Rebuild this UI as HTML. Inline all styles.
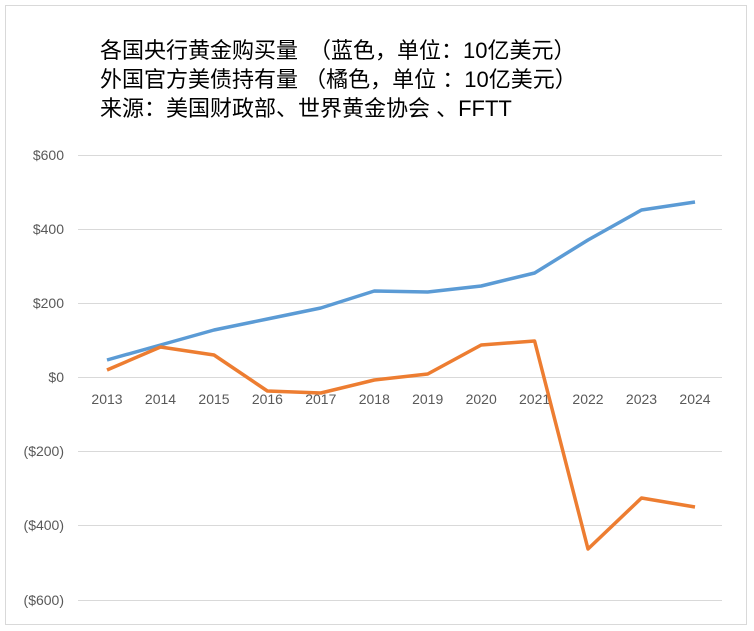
<!DOCTYPE html>
<html><head><meta charset="utf-8"><style>
body{margin:0;background:#fff;}
svg{display:block;}
text{font-family:"Liberation Sans","Noto Sans CJK SC",sans-serif;}
</style></head><body>
<svg width="754" height="631" xmlns="http://www.w3.org/2000/svg">
<rect x="0" y="0" width="754" height="631" fill="#fff"/>
<rect x="5.5" y="5.5" width="741" height="619" fill="none" stroke="#d9d9d9" stroke-width="1"/>
<g font-size="22" fill="#000">
<text x="100" y="58">各国央行黄金购买量　（蓝色，单位：10亿美元）</text>
<text x="100" y="87" xml:space="preserve">外国官方美债持有量 （橘色，单位 ：10亿美元）</text>
<text x="100" y="116">来源：美国财政部、世界黄金协会 、FFTT</text>
</g>
<g stroke="#d9d9d9" stroke-width="1">
<line x1="78" x2="722" y1="155.5" y2="155.5"/>
<line x1="78" x2="722" y1="229.5" y2="229.5"/>
<line x1="78" x2="722" y1="303.5" y2="303.5"/>
<line x1="78" x2="722" y1="377.5" y2="377.5"/>
<line x1="78" x2="722" y1="451.5" y2="451.5"/>
<line x1="78" x2="722" y1="525.5" y2="525.5"/>
<line x1="78" x2="722" y1="600.5" y2="600.5"/>
</g>
<g font-size="14" fill="#595959" text-anchor="end">
<text x="64" y="160">$600</text>
<text x="64" y="234">$400</text>
<text x="64" y="308">$200</text>
<text x="64" y="382">$0</text>
<text x="64" y="456">($200)</text>
<text x="64" y="530">($400)</text>
<text x="64" y="605">($600)</text>
</g>
<g font-size="14" fill="#595959" text-anchor="middle">
<text x="107" y="404">2013</text><text x="160.5" y="404">2014</text><text x="214" y="404">2015</text>
<text x="267.4" y="404">2016</text><text x="320.8" y="404">2017</text><text x="374.3" y="404">2018</text>
<text x="427.7" y="404">2019</text><text x="481.2" y="404">2020</text><text x="534.6" y="404">2021</text>
<text x="588" y="404">2022</text><text x="641.5" y="404">2023</text><text x="695" y="404">2024</text>
</g>
<polyline fill="none" stroke="#5b9bd5" stroke-width="3.5" stroke-linejoin="round" points="107,360 160.5,345 214,330 267.4,319 320.8,308 374.3,291 427.7,292 481.2,286 534.6,273 588,240 641.5,210 695,202"/>
<polyline fill="none" stroke="#ed7d31" stroke-width="3.5" stroke-linejoin="round" points="107,370 160.5,347 214,355 267.4,391 320.8,393 374.3,380 427.7,374 481.2,345 534.6,341 588,549 641.5,498 695,507"/>
</svg>
</body></html>
